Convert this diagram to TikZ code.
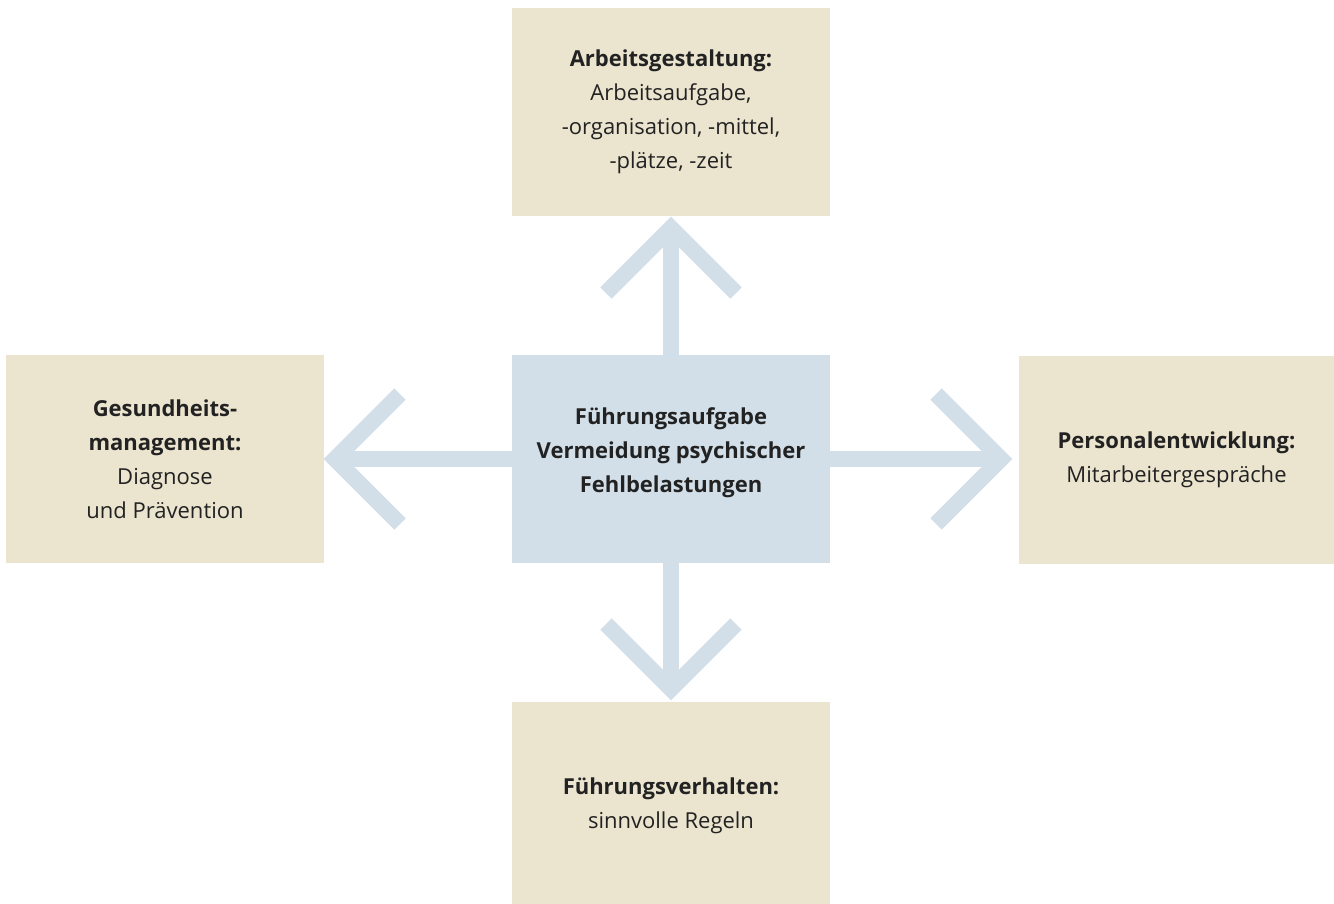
\documentclass[tikz,border=0pt]{standalone}
\usepackage{fontspec}
\setmainfont{Open Sans}
\usepackage{tikz}
\usetikzlibrary{positioning,calc}
\definecolor{boxbeige}{HTML}{EBE4CF}
\definecolor{boxblue}{HTML}{D3DFE8}
\definecolor{textdark}{HTML}{222222}

\begin{document}
\begin{tikzpicture}[
    x = 1pt, y = -1pt,
    field/.style={rectangle, fill=boxbeige, minimum width=318pt, minimum height=208pt,
        align=center, text=textdark, font=\fontsize{22}{34}\selectfont, inner sep=0pt},
    core/.style={field, fill=boxblue},
    shaft/.style={draw=boxblue, line width=16pt},
    chevron/.style={draw=boxblue, line width=16pt, line join=miter, line cap=butt}
]
    \useasboundingbox (0,0) rectangle (1334,903);

    \node[core] (ctr) at (671,459) {};
    \node[align=center, text=textdark, font=\fontsize{22}{34}\selectfont] (ctrtxt) at (671,453)
        {\textbf{Führungsaufgabe}\\\textbf{Vermeidung psychischer}\\\textbf{Fehlbelastungen}};
    \node[field] (top) at (671,112) {\textbf{Arbeitsgestaltung:}\\Arbeitsaufgabe,\\-organisation, -mittel,\\-plätze, -zeit};
    \node[field] (lft) at (165,459) {\textbf{Gesundheits-}\\\textbf{management:}\\Diagnose\\und Prävention};
    \node[field, minimum width=315pt] (rgt) at (1176.5,460) {\textbf{Personalentwicklung:}\\Mitarbeitergespräche};
    \node[field] (bot) at (671,806) {\textbf{Führungsverhalten:}\\sinnvolle Regeln};

    % tips of the chevrons
    \coordinate (tt) at (671,228);
    \coordinate (tl) at (335,459);
    \coordinate (tr) at (1001,459);
    \coordinate (tb) at (671,689);

    \draw[shaft] (ctr.north) -- (tt);
    \draw[shaft] (ctr.west) -- (tl);
    \draw[shaft] (ctr.east) -- (tr);
    \draw[shaft] (ctr.south) -- (tb);

    \draw[chevron] ($(tt)+(-65,65)$) -- (tt) -- ($(tt)+(65,65)$);
    \draw[chevron] ($(tl)+(65,-65)$) -- (tl) -- ($(tl)+(65,65)$);
    \draw[chevron] ($(tr)+(-65,-65)$) -- (tr) -- ($(tr)+(-65,65)$);
    \draw[chevron] ($(tb)+(-65,-65)$) -- (tb) -- ($(tb)+(65,-65)$);
\end{tikzpicture}
\end{document}
